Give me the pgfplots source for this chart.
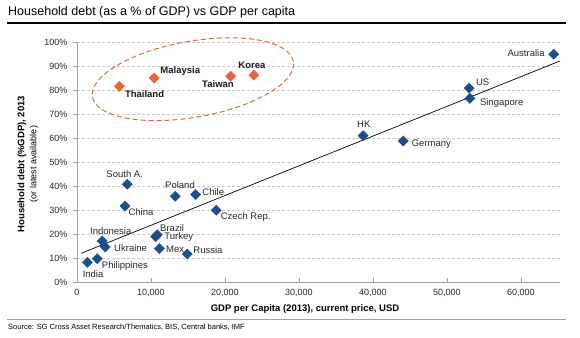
\documentclass[border=0pt]{standalone}
\usepackage{pgfplots}
\pgfplotsset{compat=1.18}
\usepackage{pgfplotstable}
\usepackage{fontspec}
\setmainfont{Liberation Sans}
\usetikzlibrary{shapes.geometric}
\definecolor{dblue}{RGB}{31,78,140}
\definecolor{dorange}{RGB}{232,98,58}
\definecolor{gridgrey}{RGB}{200,200,200}
\definecolor{axgrey}{RGB}{160,160,160}

\pgfplotstableread{
x y
1400 8.2
2750 9.7
3420 17.1
3830 14.6
6490 31.7
6800 40.7
10630 18.9
10860 19.7
11130 13.9
13290 35.7
14910 11.7
16040 36.4
18830 29.9
38690 61.0
44100 58.75
53020 80.8
53110 76.5
64460 94.9
}\bluedata

\pgfplotstableread{
x y
5720 81.5
10450 85.0
20770 85.8
23920 86.2
}\orangedata

\begin{document}
\begin{tikzpicture}
\useasboundingbox (0,0) rectangle (580pt,337pt);
% title
\node[anchor=west, inner sep=0] at (8pt,325pt) {\fontsize{12.5}{14}\selectfont Household debt (as a \% of GDP) vs GDP per capita};
\draw[line width=1.8pt, black] (7pt,314pt) -- (566pt,314pt);
% bottom rule and source
\draw[line width=0.8pt, axgrey] (7pt,18pt) -- (566pt,18pt);
\node[anchor=west, inner sep=0] at (8pt,10pt) {\fontsize{7.5}{9}\selectfont Source: SG Cross Asset Research/Thematics, BIS, Central banks, IMF};

\begin{axis}[
  at={(77pt,55pt)}, anchor=south west,
  width=483pt, height=240pt, scale only axis,
  xmin=0, xmax=65300, ymin=0, ymax=100,
  axis x line*=bottom, axis y line*=left,
  axis line style={axgrey, line width=0.7pt},
  xtick={0,10000,...,60000},
  ytick={0,10,...,100},
  yticklabel={\pgfmathprintnumber{\tick}\%},
  scaled x ticks=false,
  /pgf/number format/1000 sep={,},
  /pgf/number format/assume math mode=true,
  tick label style={font=\fontsize{9}{10}\selectfont, text=black!85},
  xtick align=inside, ytick align=outside,
  major tick length=4pt,
  tick style={axgrey, line width=0.6pt},
  ymajorgrids, xmajorgrids=false,
  major grid style={gridgrey, dash pattern=on 3pt off 2pt, line width=0.6pt},
  xticklabel style={yshift=-4pt},
  yticklabel style={xshift=-2pt},
  clip=false,
]
\addplot[black, line width=0.7pt] coordinates {(600,12.0) (65300,92.1)};
\addplot[only marks, mark=square*, mark size=3.6pt, mark options={rotate=45, fill=dblue, draw=dblue}] table[x=x,y=y]{\bluedata};
\addplot[only marks, mark=square*, mark size=3.6pt, mark options={rotate=45, fill=dorange, draw=dorange}] table[x=x,y=y]{\orangedata};

\node[draw=dorange, dashed, dash pattern=on 5pt off 3pt, line width=1pt, ellipse, minimum width=204pt, minimum height=76pt, inner sep=0, rotate=10] at (axis cs:15676,84.5) {};

\tikzset{lab/.style={inner sep=0, font=\fontsize{9.5}{11}\selectfont, text=black!85}}
\tikzset{blab/.style={inner sep=0, font=\fontsize{9.5}{11}\selectfont\bfseries, text=black!90}}
\node[blab, anchor=west, xshift=5.5pt, yshift=-8pt] at (axis cs:5720,81.5) {Thailand};
\node[blab, anchor=west, xshift=6pt, yshift=7pt] at (axis cs:10450,85.0) {Malaysia};
\node[blab, anchor=east, xshift=3.3pt, yshift=-7.6pt] at (axis cs:20770,85.8) {Taiwan};
\node[blab, anchor=center, xshift=-2pt, yshift=10pt] at (axis cs:23920,86.2) {Korea};

\node[lab, anchor=east, xshift=-9pt, yshift=0.7pt] at (axis cs:64460,94.9) {Australia};
\node[lab, anchor=west, xshift=6.7pt, yshift=5.4pt] at (axis cs:53020,80.8) {US};
\node[lab, anchor=west, xshift=10pt, yshift=-4.7pt] at (axis cs:53110,76.5) {Singapore};
\node[lab, anchor=center, xshift=0.6pt, yshift=11pt] at (axis cs:38690,61.0) {HK};
\node[lab, anchor=west, xshift=8.4pt, yshift=-3.6pt] at (axis cs:44100,58.75) {Germany};
\node[lab, anchor=center, xshift=-2.6pt, yshift=10.7pt] at (axis cs:6800,40.7) {South A.};
\node[lab, anchor=center, xshift=4.7pt, yshift=11pt] at (axis cs:13290,35.7) {Poland};
\node[lab, anchor=west, xshift=6.6pt, yshift=2.6pt] at (axis cs:16040,36.4) {Chile};
\node[lab, anchor=west, xshift=3.3pt, yshift=-6pt] at (axis cs:6490,31.7) {China};
\node[lab, anchor=west, xshift=4.4pt, yshift=-6.7pt] at (axis cs:18830,29.9) {Czech Rep.};
\node[lab, anchor=center, xshift=8.5pt, yshift=9.7pt] at (axis cs:3420,17.1) {Indonesia};
\node[lab, anchor=west, xshift=8.7pt, yshift=-1pt] at (axis cs:3830,14.6) {Ukraine};
\node[lab, anchor=west, xshift=2.7pt, yshift=7pt] at (axis cs:10860,19.7) {Brazil};
\node[lab, anchor=west, xshift=8.6pt, yshift=-0.4pt] at (axis cs:10630,18.9) {Turkey};
\node[lab, anchor=west, xshift=6.7pt, yshift=-0.7pt] at (axis cs:11130,13.9) {Mex};
\node[lab, anchor=west, xshift=6pt, yshift=3.4pt] at (axis cs:14910,11.7) {Russia};
\node[lab, anchor=west, xshift=4.4pt, yshift=-7.4pt] at (axis cs:2750,9.7) {Philippines};
\node[lab, anchor=center, xshift=5.7pt, yshift=-12pt] at (axis cs:1400,8.2) {India};
\end{axis}

% axis labels
\node[anchor=center, inner sep=0] at (305pt,28pt) {\fontsize{9.5}{11}\selectfont\bfseries GDP per Capita (2013), current price, USD};
\node[anchor=center, inner sep=0, rotate=90] at (22pt,173pt) {\fontsize{9.5}{11}\selectfont\bfseries Household debt (\%GDP), 2013};
\node[anchor=center, inner sep=0, rotate=90] at (34pt,173pt) {\fontsize{9}{10}\selectfont (or latest available)};
\end{tikzpicture}
\end{document}
